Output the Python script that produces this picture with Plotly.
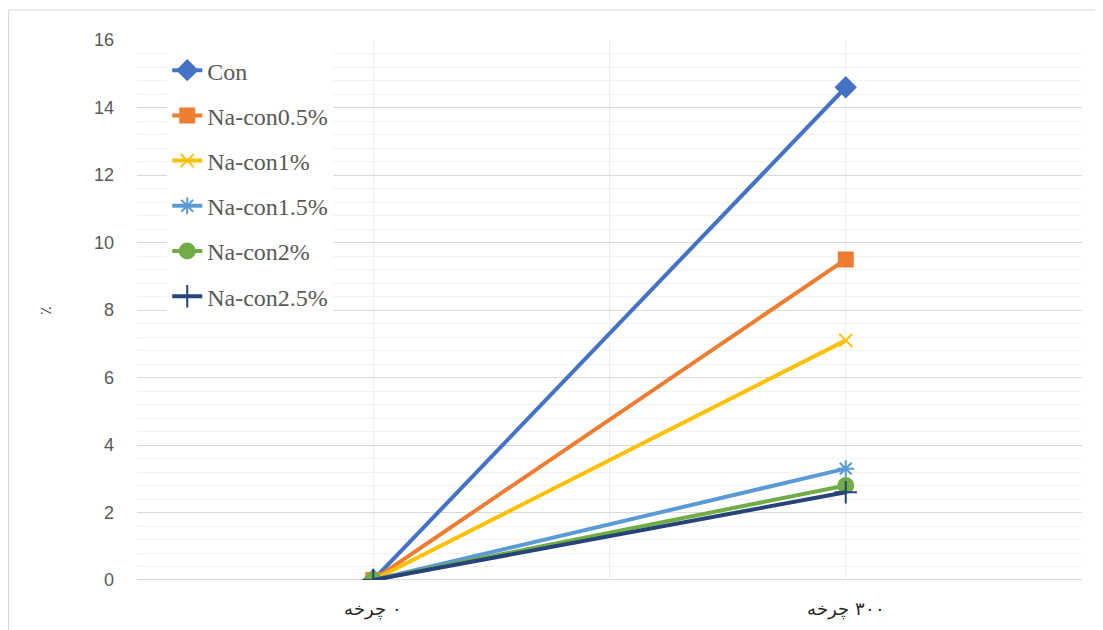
import plotly.graph_objects as go

categories = ["۰ چرخه", "۳۰۰ چرخه"]
series_names = ["Con", "Na-con0.5%", "Na-con1%", "Na-con1.5%", "Na-con2%", "Na-con2.5%"]
con = [0, 14.6]
na05 = [0, 9.5]
na1 = [0, 7.1]
na15 = [0, 3.3]
na2 = [0, 2.8]
na25 = [0, 2.6]
y_ticks = [0, 2, 4, 6, 8, 10, 12, 14, 16]

series_values = [con, na05, na1, na15, na2, na25]
colors = ["#4472C4", "#ED7D31", "#FFC000", "#5B9BD5", "#70AD47", "#264478"]
symbols = ["diamond", "square", "x-thin-open", "asterisk-open", "circle", "cross-thin-open"]
sizes = [15, 14, 13, 14, 15, 16]

# category positions with padding on each side (Excel style)
xpos = [0, 2]

fig = go.Figure()
for i, (name, vals) in enumerate(zip(series_names, series_values)):
    fig.add_trace(go.Scatter(
        x=xpos, y=vals, name=name, mode="lines+markers",
        legendgroup=name,
        line=dict(color=colors[i], width=4),
        marker=dict(symbol=symbols[i], size=sizes[i], color=colors[i],
                    line=dict(color=colors[i], width=2)),
    ))

# page body has an 8px margin; compensate so the plot lands where the reference has it
L, R, T, B = 129, 29, 32, 58
PW, PH = 1103 - L - R, 630 - T - B

fig.update_layout(
    width=1103, height=630,
    margin=dict(l=L, r=R, t=T, b=B),
    paper_bgcolor="white", plot_bgcolor="white",
    showlegend=True,
    legend=dict(x=0.032, y=0.985, xanchor="left", yanchor="top",
                bgcolor="white", tracegroupgap=11,
                font=dict(family="Liberation Serif", size=24, color="#595959"),
                itemwidth=30),
    xaxis=dict(range=[-1, 3], tickmode="array", tickvals=[-1, 0, 1, 2, 3],
               ticktext=["", "\u200f" + categories[0], "", "\u200f" + categories[1], ""],
               showgrid=True, gridcolor="#EDEDED", gridwidth=1,
               zeroline=False, showline=False, ticks="",
               tickfont=dict(family="DejaVu Serif, Liberation Serif", size=18, color="#262626"),
               ticklabelstandoff=16),
    yaxis=dict(range=[0, 16], tickvals=y_ticks,
               showgrid=True, gridcolor="#D9D9D9", gridwidth=1,
               minor=dict(dtick=0.4, showgrid=True, gridcolor="#F2F2F2", gridwidth=1),
               zeroline=False, showline=False, ticks="",
               tickfont=dict(family="Liberation Sans", size=18, color="#595959"),
               ticklabelstandoff=22,
               title=dict(text="٪", font=dict(family="Liberation Serif", size=16, color="#595959"),
                          standoff=38)),
)

# baseline axis line
fig.add_shape(type="line", xref="paper", yref="y", x0=0, x1=1, y0=0, y1=0,
              line=dict(color="#D9D9D9", width=2), layer="below")
# chart border
fig.add_shape(type="rect", xref="paper", yref="paper",
              x0=(0.5 - L) / PW, x1=(1120 - L) / PW,
              y0=-(660 - (T + PH)) / PH, y1=1 + (T - 2) / PH,
              line=dict(color="#D9D9D9", width=1), fillcolor="rgba(0,0,0,0)", layer="below")

fig.write_html("out.html")
